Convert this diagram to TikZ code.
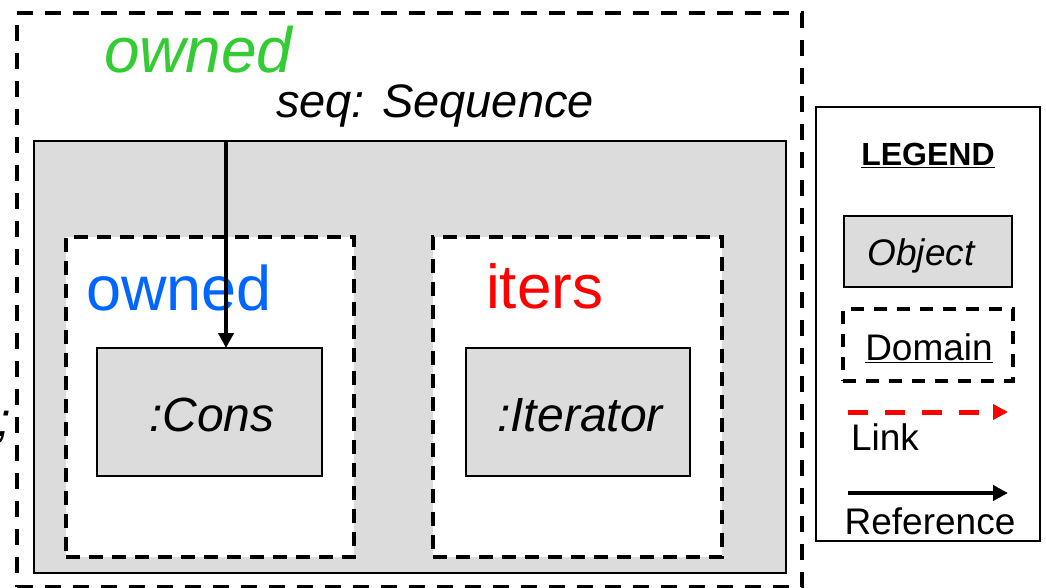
\documentclass[tikz,border=0pt]{standalone}
\usepackage{fontspec}
\setmainfont{Liberation Sans}
\usetikzlibrary{arrows.meta}
\definecolor{objgray}{HTML}{DCDCDC}
\definecolor{ownedgreen}{HTML}{33CC33}
\definecolor{ownedblue}{HTML}{0066FF}
\definecolor{itersred}{HTML}{FF0000}
\newcommand{\fsz}[1]{\fontsize{#1}{#1}\selectfont}
\tikzset{
  domainbox/.style={draw=black, line width=4.2pt, dash pattern=on 14pt off 9pt, fill=white},
  outerbox/.style={draw=black, line width=4.2pt, dash pattern=on 16pt off 12pt},
  objbox/.style={draw=black, line width=1.8pt, fill=objgray},
  reflink/.style={line width=4.5pt, -{Triangle[length=15pt,width=15pt]}},
  dashlink/.style={draw=red, line width=5pt, dash pattern=on 20pt off 17pt, -{Triangle[length=15pt,width=15pt,fill=red]}},
  lbl/.style={inner sep=0pt, outer sep=0pt},
}
\begin{document}
\begin{tikzpicture}[x=1pt,y=-1pt]
\useasboundingbox (0,0) rectangle (1046,587);
\fill[white] (0,0) rectangle (1046,587);
% outer dashed domain (owned)
\node[outerbox, lbl, minimum width=785pt, minimum height=574pt, anchor=north west] (outer) at (17,13) {};
\node[lbl, anchor=base west, text=ownedgreen] (ownedg) at (104,72) {\fsz{64}\itshape owned};
\node[lbl, anchor=base west] (seqlbl) at (276,117) {\fsz{47}\itshape seq: Sequence};
% Sequence object
\node[objbox, line width=2.6pt, lbl, minimum width=752pt, minimum height=432pt, anchor=north west] (seq) at (34,141) {};
% owned domain
\node[domainbox, lbl, minimum width=288pt, minimum height=320pt, anchor=north west] (owneddom) at (66,237) {};
\node[lbl, anchor=base west, text=ownedblue] (ownedb) at (86,310) {\fsz{63}owned};
% iters domain
\node[domainbox, lbl, minimum width=289pt, minimum height=320pt, anchor=north west] (itersdom) at (433,237) {};
\node[lbl, anchor=base west, text=itersred] (iterslbl) at (486,308) {\fsz{62}iters};
% objects
\node[objbox, lbl, minimum width=225pt, minimum height=128pt, anchor=north west] (cons) at (97,348) {};
\node[lbl, anchor=base] (conslbl) at (212,431) {\fsz{48}\itshape :Cons};
\node[objbox, lbl, minimum width=224pt, minimum height=128pt, anchor=north west] (iter) at (466,348) {};
\node[lbl, anchor=base] (iterlbl) at (580,431) {\fsz{48}\itshape :Iterator};
% reference arrow
\coordinate (refstart) at (226,141);
\coordinate (refend) at (226,348);
\draw[reflink] (refstart) -- (refend);
% clipped text at left edge (cut off in the reference too)
\node[lbl, anchor=base east] (semi) at (11,436) {\fsz{48}\itshape ;};
% legend
\node[draw=black, line width=2pt, fill=white, lbl, minimum width=224pt, minimum height=434pt, anchor=north west] (legend) at (816,107) {};
\node[lbl, anchor=base] (legtitle) at (928,165) {\fsz{32}\bfseries\underline{LEGEND}};
\node[objbox, lbl, minimum width=168pt, minimum height=71pt, anchor=north west] (legobj) at (844,216) {};
\node[lbl, anchor=base] (legobjlbl) at (921,265) {\fsz{37}\itshape Object};
\node[domainbox, line width=3.6pt, dash pattern=on 13pt off 10pt, lbl, minimum width=170pt, minimum height=72pt, anchor=north west] (legdom) at (843,309) {};
\node[lbl, anchor=base] (legdomlbl) at (929,360) {\fsz{37}\underline{Domain}};
\coordinate (linkstart) at (848,412);
\coordinate (linkend) at (1008,412);
\draw[dashlink] (linkstart) -- (linkend);
\node[lbl, anchor=base west] (linklbl) at (851,450) {\fsz{37}Link};
\coordinate (rstart) at (848,493);
\coordinate (rend) at (1008,493);
\draw[reflink] (rstart) -- (rend);
\node[lbl, anchor=base] (reflbl) at (930,534) {\fsz{37}Reference};
\end{tikzpicture}
\end{document}
